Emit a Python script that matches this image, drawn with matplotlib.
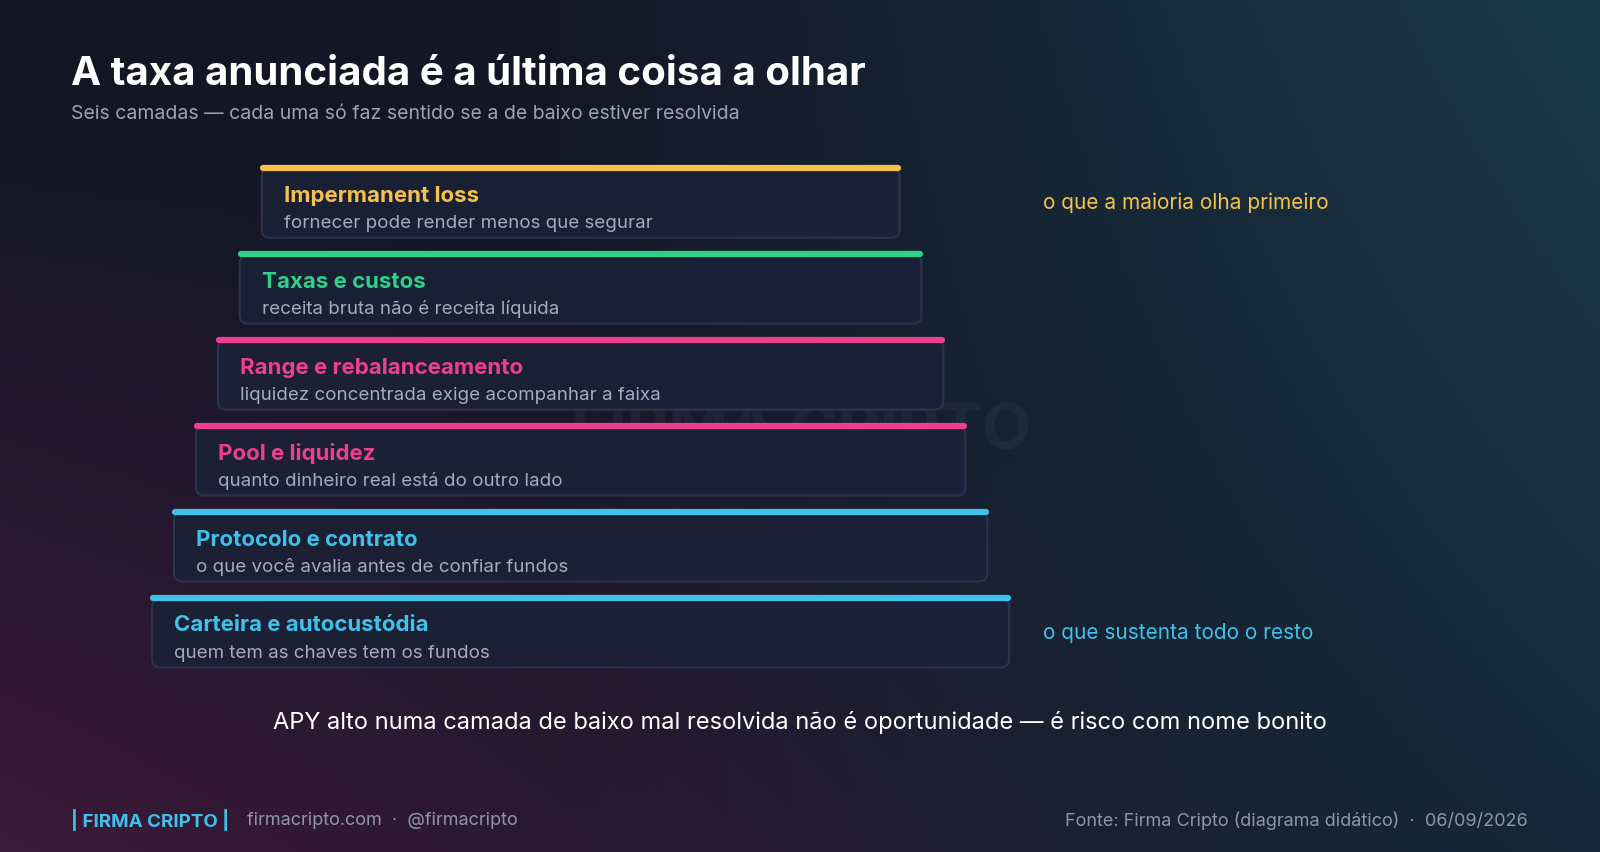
import numpy as np
import matplotlib.pyplot as plt
from matplotlib.patches import FancyBboxPatch

# coordinates below measured on a 1568x836 view of the reference
W, H = 1568, 836

layers = ["Carteira e autocustódia", "Protocolo e contrato", "Pool e liquidez",
          "Range e rebalanceamento", "Taxas e custos", "Impermanent loss"]
descs = ["quem tem as chaves tem os fundos",
         "o que você avalia antes de confiar fundos",
         "quanto dinheiro real está do outro lado",
         "liquidez concentrada exige acompanhar a faixa",
         "receita bruta não é receita líquida",
         "fornecer pode render menos que segurar"]
colors = ["#3fc1ea", "#3fc1ea", "#ee3f8e", "#ee3f8e", "#2fd08a", "#f6c04e"]

title = "A taxa anunciada é a última coisa a olhar"
subtitle = "Seis camadas — cada uma só faz sentido se a de baixo estiver resolvida"
note_top = "o que a maioria olha primeiro"
note_bottom = "o que sustenta todo o resto"
footer_msg = "APY alto numa camada de baixo mal resolvida não é oportunidade — é risco com nome bonito"

plt.rcParams['font.family'] = ['Inter', 'DejaVu Sans']
fig = plt.figure(figsize=(16, 8.53), dpi=100)
ax = fig.add_axes([0, 0, 1, 1])
ax.set_xlim(0, W)
ax.set_ylim(H, 0)
ax.axis('off')

# background gradient
yy, xx = np.mgrid[0:1:200j, 0:1:300j]
c_base = np.array([0.08, 0.09, 0.15])
c_teal = np.array([0.10, 0.24, 0.30])
c_purp = np.array([0.23, 0.10, 0.22])
wt = np.clip(xx - 0.35, 0, 1) * (1 - 0.5 * yy) * 1.4
wp = np.clip((1 - xx) * yy - 0.2, 0, 1) * 1.3
img = c_base[None, None, :] * np.ones((200, 300, 1))
img = img + wt[..., None] * (c_teal - c_base) + wp[..., None] * (c_purp - c_base)
ax.imshow(np.clip(img, 0, 1), extent=[0, W, H, 0], aspect='auto', zorder=0)

ax.text(70, 73, title, color='white', fontsize=29, fontweight='bold', va='center')
ax.text(70, 112, subtitle, color='#9aa3b8', fontsize=14, va='center')

ax.text(785, 424, "FIRMA CRIPTO", color='#ffffff', alpha=0.04, fontsize=46,
        fontweight='bold', ha='center', va='center', zorder=1)

for i, (name, d, c) in enumerate(zip(layers, descs, colors)):
    x0 = 149 + 21.5 * i
    x1 = 989 - 21.5 * i
    top = 587 - 84.2 * i
    box = FancyBboxPatch((x0, top), x1 - x0, 68, boxstyle="round,pad=0,rounding_size=8",
                         fc='#1b2136', ec='#2e3650', lw=1.5, alpha=0.92, zorder=2)
    ax.add_patch(box)
    ax.plot([x0 + 1, x1 - 1], [top, top], color=c, lw=4.5, solid_capstyle='round', zorder=3)
    ax.text(x0 + 22, top + 26, name, color=c, fontsize=16, fontweight='bold', va='center', zorder=4)
    ax.text(x0 + 22, top + 53, d, color='#a4abbd', fontsize=13.5, va='center', zorder=4)

ax.text(1022, 199, note_top, color='#f6c04e', fontsize=15, va='center')
ax.text(1022, 620, note_bottom, color='#3fc1ea', fontsize=15, va='center')
ax.text(784, 708, footer_msg, color='white', fontsize=17, ha='center', va='center')

ax.text(70, 804, "| FIRMA CRIPTO |", color='#3fc1ea', fontsize=13.5, fontweight='bold', va='center')
ax.text(242, 804, "firmacripto.com  ·  @firmacripto", color='#8e96aa', fontsize=13, va='center')
ax.text(1497, 804, "Fonte: Firma Cripto (diagrama didático)  ·  06/09/2026", color='#8e96aa',
        fontsize=13, ha='right', va='center')

fig.savefig('out.png', dpi=100)
